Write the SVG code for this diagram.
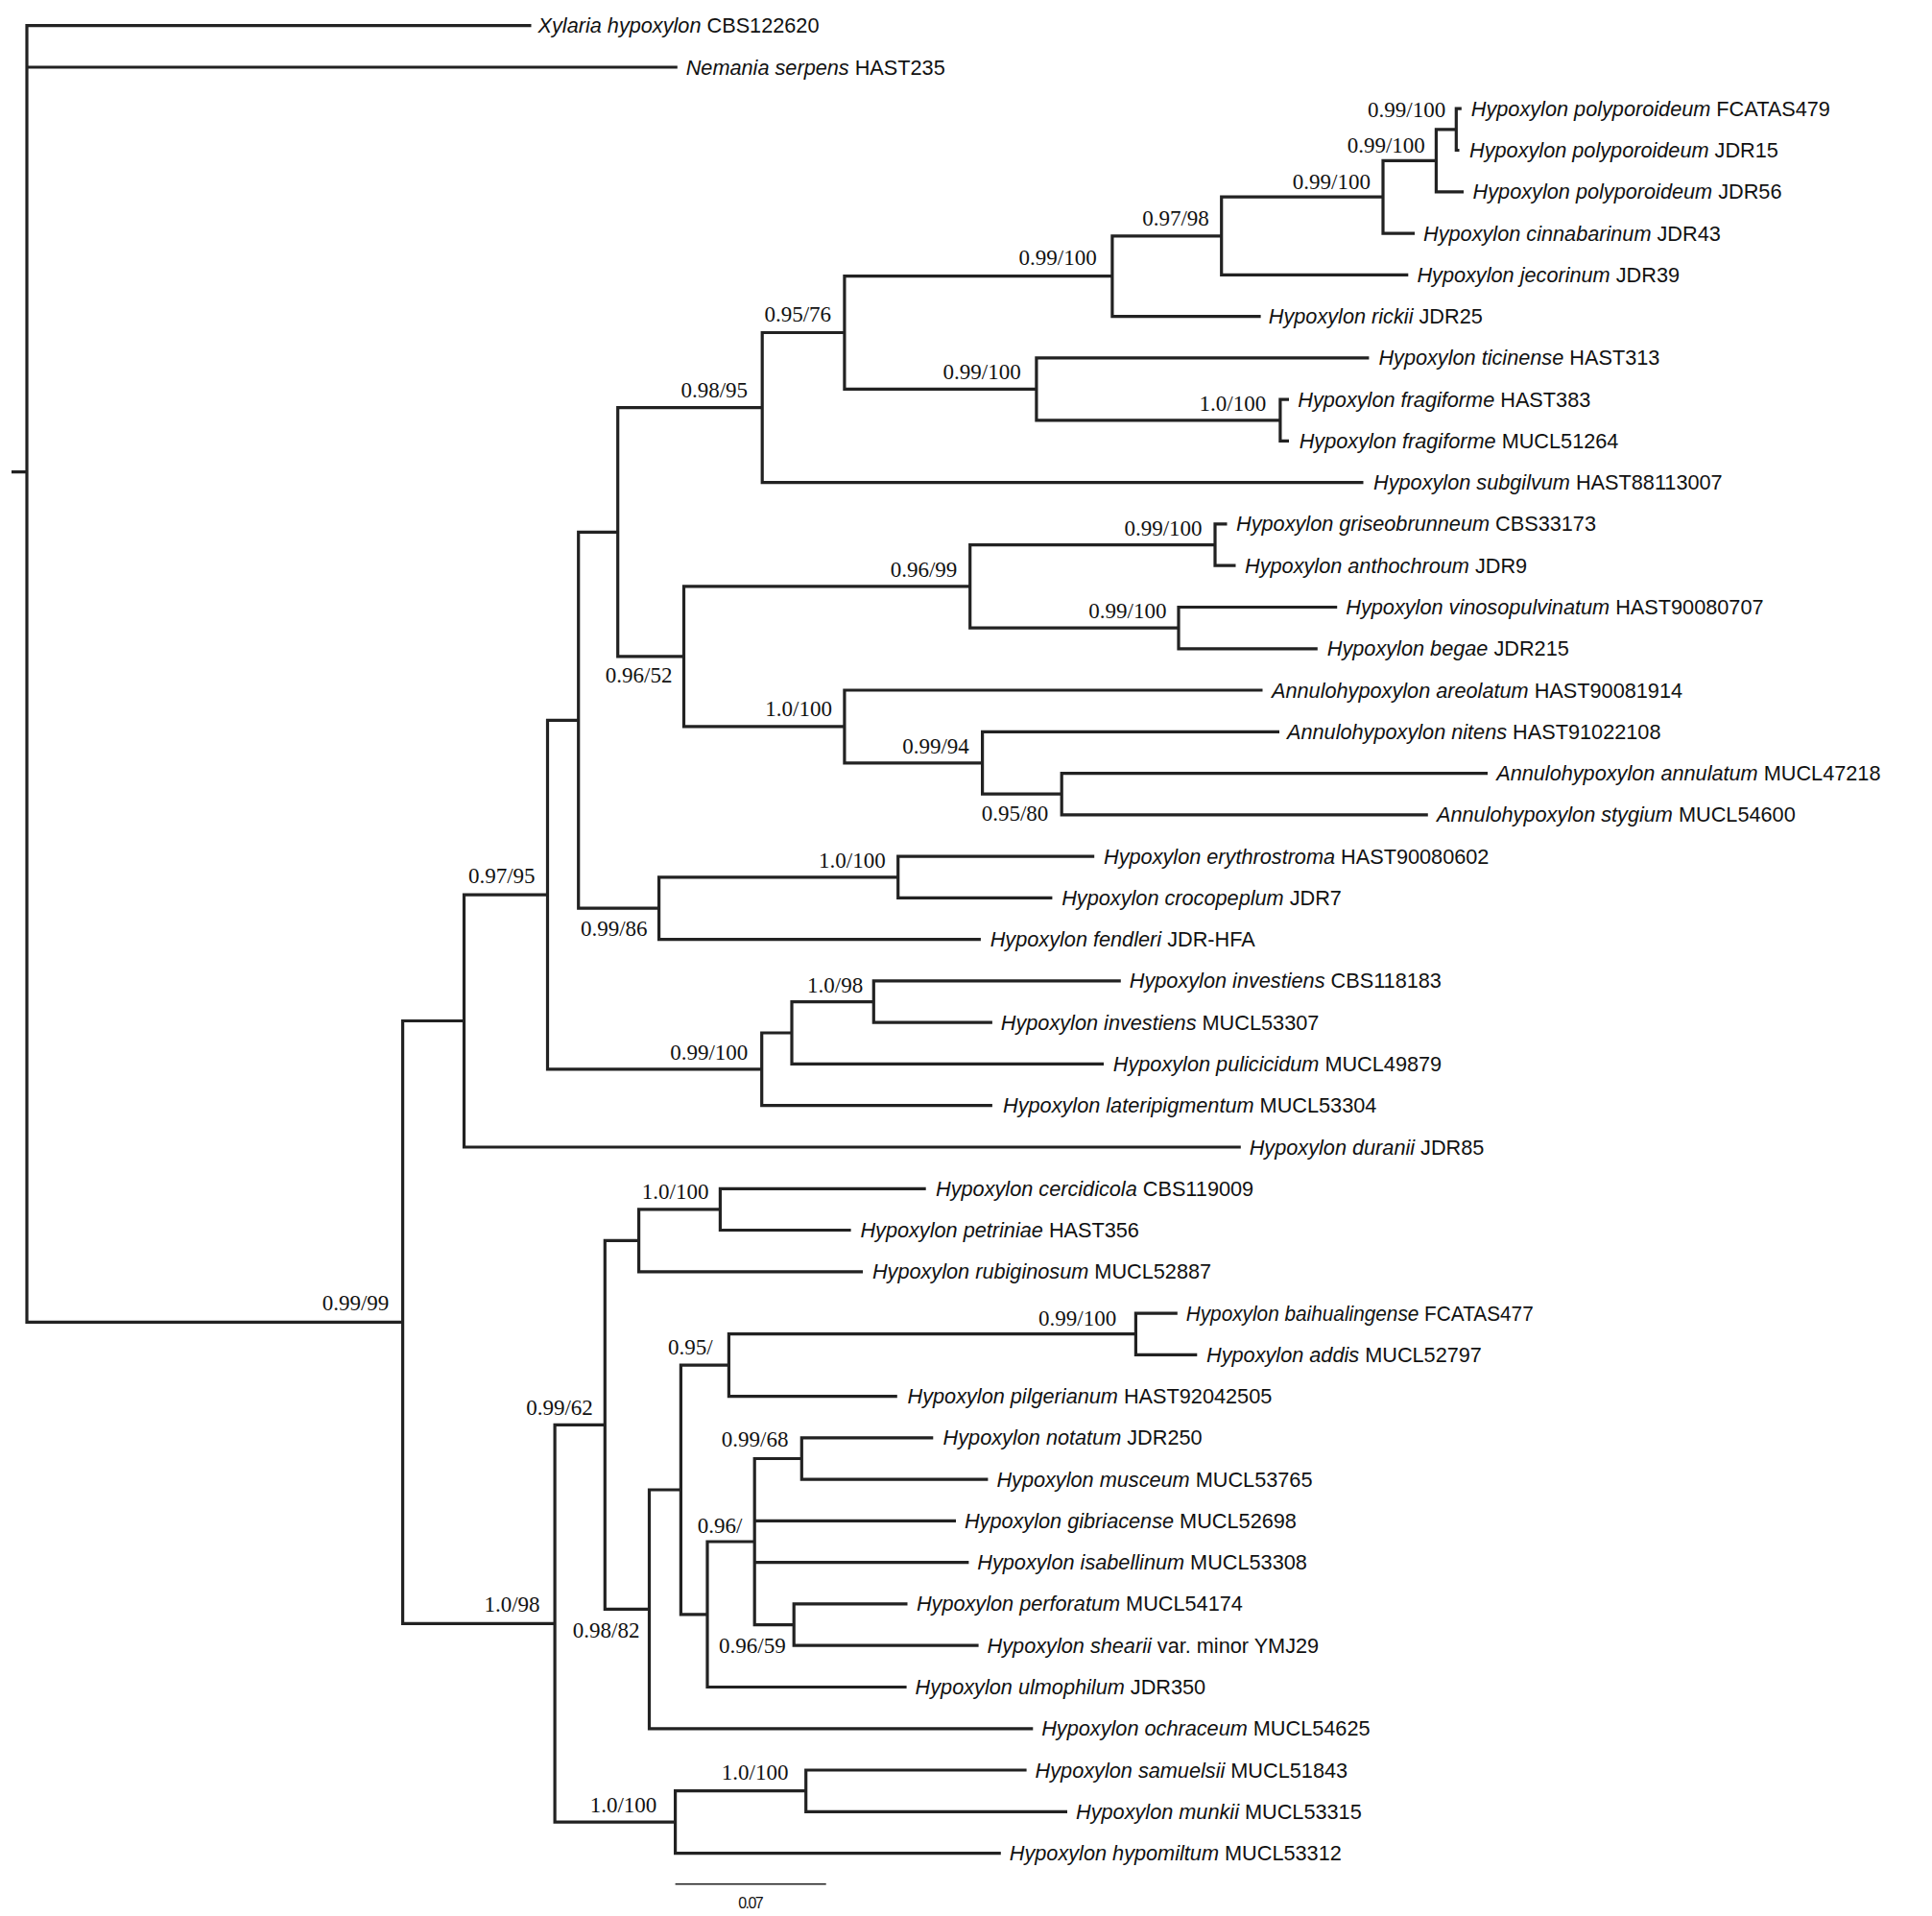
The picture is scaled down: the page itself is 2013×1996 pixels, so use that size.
<svg xmlns="http://www.w3.org/2000/svg" width="2013" height="1996" viewBox="0 0 2013 1996">
<style>
.br{fill:none;stroke:#222;stroke-width:3.2;stroke-linejoin:miter}
.tx{font-family:"Liberation Sans",Arial,sans-serif;font-size:21.7px;fill:#111}
.i{font-style:italic}
.sp{font-family:"Liberation Serif","Times New Roman",serif;font-size:23px;fill:#111}
.sb{fill:none;stroke:#222;stroke-width:1.6}
.sl{font-family:"Liberation Sans",Arial,sans-serif;font-size:16px;fill:#111;letter-spacing:-1.5px}
</style>
<rect width="2013" height="1996" fill="#fff"/>
<g id="connectors">
<path class="br" d="M553.5 26.7H28V1377.4H419.6M28 70H705.8M12 491.7H28"/>
<path class="br" d="M1522.8 113.2H1517.3V156.5H1520.5"/>
<path class="br" d="M1517.3 134.85H1496.4V199.8H1525"/>
<path class="br" d="M1496.4 167.3H1441V243.1H1474"/>
<path class="br" d="M1441 205.2H1272.7V286.3H1467.3"/>
<path class="br" d="M1272.7 245.8H1158.9V329.6H1313.6"/>
<path class="br" d="M1343 416.1H1333.9V459.4H1343"/>
<path class="br" d="M1426.4 372.9H1079.9V437.8H1333.9"/>
<path class="br" d="M1158.9 287.7H879.9V405.3H1079.9"/>
<path class="br" d="M879.9 346.5H794.2V502.7H1420.5"/>
<path class="br" d="M1278.5 545.9H1266V589.2H1287.5"/>
<path class="br" d="M1393.2 632.5H1228V675.8H1372.8"/>
<path class="br" d="M1266 567.6H1010.7V654.1H1228"/>
<path class="br" d="M1550 805.6H1106.2V848.8H1487.8"/>
<path class="br" d="M1333 762.3H1023.6V827.2H1106.2"/>
<path class="br" d="M1315.5 719H879.9V794.8H1023.6"/>
<path class="br" d="M1010.7 610.9H712.5V756.9H879.9"/>
<path class="br" d="M794.2 424.6H643.7V683.9H712.5"/>
<path class="br" d="M1140.2 892.1H935.7V935.4H1096.4"/>
<path class="br" d="M935.7 913.8H686.6V978.6H1021.9"/>
<path class="br" d="M643.7 554.3H602.7V946.2H686.6"/>
<path class="br" d="M1167.8 1021.9H910.3V1065.2H1033.9"/>
<path class="br" d="M910.3 1043.6H825V1108.4H1150"/>
<path class="br" d="M825 1076H793.7V1151.7H1033.9"/>
<path class="br" d="M602.7 750.3H570.5V1113.9H793.7"/>
<path class="br" d="M570.5 932.1H483.5V1195H1292.8"/>
<path class="br" d="M964.7 1238.3H750.4V1281.5H886.6"/>
<path class="br" d="M750.4 1259.9H665.6V1324.8H899"/>
<path class="br" d="M1226.8 1368.1H1183.4V1411.3H1247.3"/>
<path class="br" d="M1183.4 1389.7H759.4V1454.6H934.8"/>
<path class="br" d="M972.3 1497.9H835.3V1541.1H1029.4"/>
<path class="br" d="M945.5 1670.9H827.2V1714.2H1019.6"/>
<path class="br" d="M835.3 1519.5H786.2V1692.6H827.2M786.2 1584.4H996M786.2 1627.7H1009.4"/>
<path class="br" d="M786.2 1606H737V1757.5H944.6"/>
<path class="br" d="M759.4 1422.2H709.4V1681.8H737"/>
<path class="br" d="M709.4 1552H676.5V1800.8H1076.3"/>
<path class="br" d="M665.6 1292.4H630.3V1676.4H676.5"/>
<path class="br" d="M1069.6 1844H839.7V1887.3H1112"/>
<path class="br" d="M839.7 1865.7H703.6V1930.6H1042.8"/>
<path class="br" d="M630.3 1484.4H578.1V1898.1H703.6"/>
<path class="br" d="M483.5 1063.5H419.6V1691.3H578.1"/>
</g>
<g id="leaves">
<g id="t0"><text class="tx" x="560.5" y="34.2"><tspan class="i">Xylaria hypoxylon</tspan> CBS122620</text></g>
<g id="t1"><text class="tx" x="714.7" y="77.5"><tspan class="i">Nemania serpens</tspan> HAST235</text></g>
<g id="t2"><text class="tx" x="1532.8" y="120.7"><tspan class="i">Hypoxylon polyporoideum</tspan> FCATAS479</text></g>
<g id="t3"><text class="tx" x="1531" y="164"><tspan class="i">Hypoxylon polyporoideum</tspan> JDR15</text></g>
<g id="t4"><text class="tx" x="1534.6" y="207.3"><tspan class="i">Hypoxylon polyporoideum</tspan> JDR56</text></g>
<g id="t5"><text class="tx" x="1483" y="250.6"><tspan class="i">Hypoxylon cinnabarinum</tspan> JDR43</text></g>
<g id="t6"><text class="tx" x="1476.4" y="293.8"><tspan class="i">Hypoxylon jecorinum</tspan> JDR39</text></g>
<g id="t7"><text class="tx" x="1321.8" y="337.1"><tspan class="i">Hypoxylon rickii</tspan> JDR25</text></g>
<g id="t8"><text class="tx" x="1436.4" y="380.4"><tspan class="i">Hypoxylon ticinense</tspan> HAST313</text></g>
<g id="t9"><text class="tx" x="1352.3" y="423.6"><tspan class="i">Hypoxylon fragiforme</tspan> HAST383</text></g>
<g id="t10"><text class="tx" x="1353.7" y="466.9"><tspan class="i">Hypoxylon fragiforme</tspan> MUCL51264</text></g>
<g id="t11"><text class="tx" x="1431" y="510.2"><tspan class="i">Hypoxylon subgilvum</tspan> HAST88113007</text></g>
<g id="t12"><text class="tx" x="1288" y="553.4"><tspan class="i">Hypoxylon griseobrunneum</tspan> CBS33173</text></g>
<g id="t13"><text class="tx" x="1297" y="596.7"><tspan class="i">Hypoxylon anthochroum</tspan> JDR9</text></g>
<g id="t14"><text class="tx" x="1402.3" y="640"><tspan class="i">Hypoxylon vinosopulvinatum</tspan> HAST90080707</text></g>
<g id="t15"><text class="tx" x="1382.8" y="683.3"><tspan class="i">Hypoxylon begae</tspan> JDR215</text></g>
<g id="t16"><text class="tx" x="1325" y="726.5"><tspan class="i">Annulohypoxylon areolatum</tspan> HAST90081914</text></g>
<g id="t17"><text class="tx" x="1341" y="769.8"><tspan class="i">Annulohypoxylon nitens</tspan> HAST91022108</text></g>
<g id="t18"><text class="tx" x="1559.2" y="813.1"><tspan class="i">Annulohypoxylon annulatum</tspan> MUCL47218</text></g>
<g id="t19"><text class="tx" x="1497" y="856.3"><tspan class="i">Annulohypoxylon stygium</tspan> MUCL54600</text></g>
<g id="t20"><text class="tx" x="1150" y="899.6"><tspan class="i">Hypoxylon erythrostroma</tspan> HAST90080602</text></g>
<g id="t21"><text class="tx" x="1106.2" y="942.9"><tspan class="i">Hypoxylon crocopeplum</tspan> JDR7</text></g>
<g id="t22"><text class="tx" x="1031.7" y="986.1"><tspan class="i">Hypoxylon fendleri</tspan> JDR-HFA</text></g>
<g id="t23"><text class="tx" x="1176.8" y="1029.4"><tspan class="i">Hypoxylon investiens</tspan> CBS118183</text></g>
<g id="t24"><text class="tx" x="1042.8" y="1072.7"><tspan class="i">Hypoxylon investiens</tspan> MUCL53307</text></g>
<g id="t25"><text class="tx" x="1159.8" y="1115.9"><tspan class="i">Hypoxylon pulicicidum</tspan> MUCL49879</text></g>
<g id="t26"><text class="tx" x="1045" y="1159.2"><tspan class="i">Hypoxylon lateripigmentum</tspan> MUCL53304</text></g>
<g id="t27"><text class="tx" x="1301.7" y="1202.5"><tspan class="i">Hypoxylon duranii</tspan> JDR85</text></g>
<g id="t28"><text class="tx" x="975" y="1245.8"><tspan class="i">Hypoxylon cercidicola</tspan> CBS119009</text></g>
<g id="t29"><text class="tx" x="896.4" y="1289"><tspan class="i">Hypoxylon petriniae</tspan> HAST356</text></g>
<g id="t30"><text class="tx" x="908.9" y="1332.3"><tspan class="i">Hypoxylon rubiginosum</tspan> MUCL52887</text></g>
<g id="t31"><text class="tx" x="1235.7" y="1375.6" textLength="362" lengthAdjust="spacingAndGlyphs"><tspan class="i">Hypoxylon baihualingense</tspan> FCATAS477</text></g>
<g id="t32"><text class="tx" x="1257" y="1418.8"><tspan class="i">Hypoxylon addis</tspan> MUCL52797</text></g>
<g id="t33"><text class="tx" x="945.5" y="1462.1"><tspan class="i">Hypoxylon pilgerianum</tspan> HAST92042505</text></g>
<g id="t34"><text class="tx" x="982.6" y="1505.4"><tspan class="i">Hypoxylon notatum</tspan> JDR250</text></g>
<g id="t35"><text class="tx" x="1038.4" y="1548.6"><tspan class="i">Hypoxylon musceum</tspan> MUCL53765</text></g>
<g id="t36"><text class="tx" x="1004.9" y="1591.9"><tspan class="i">Hypoxylon gibriacense</tspan> MUCL52698</text></g>
<g id="t37"><text class="tx" x="1018.3" y="1635.2"><tspan class="i">Hypoxylon isabellinum</tspan> MUCL53308</text></g>
<g id="t38"><text class="tx" x="954.9" y="1678.4"><tspan class="i">Hypoxylon perforatum</tspan> MUCL54174</text></g>
<g id="t39"><text class="tx" x="1028.6" y="1721.7"><tspan class="i">Hypoxylon shearii</tspan> var. minor YMJ29</text></g>
<g id="t40"><text class="tx" x="953.6" y="1765"><tspan class="i">Hypoxylon ulmophilum</tspan> JDR350</text></g>
<g id="t41"><text class="tx" x="1085.2" y="1808.3"><tspan class="i">Hypoxylon ochraceum</tspan> MUCL54625</text></g>
<g id="t42"><text class="tx" x="1078.6" y="1851.5"><tspan class="i">Hypoxylon samuelsii</tspan> MUCL51843</text></g>
<g id="t43"><text class="tx" x="1121" y="1894.8"><tspan class="i">Hypoxylon munkii</tspan> MUCL53315</text></g>
<g id="t44"><text class="tx" x="1051.8" y="1938.1"><tspan class="i">Hypoxylon hypomiltum</tspan> MUCL53312</text></g>
</g>
<g id="supports">
<g id="s-poly12"><text class="sp" x="1425" y="121.7">0.99/100</text></g>
<g id="s-poly"><text class="sp" x="1403.7" y="159.3">0.99/100</text></g>
<g id="s-cinn"><text class="sp" x="1346.8" y="196.7">0.99/100</text></g>
<g id="s-jec"><text class="sp" x="1190.2" y="235">0.97/98</text></g>
<g id="s-rick"><text class="sp" x="1061.6" y="276">0.99/100</text></g>
<g id="s-076"><text class="sp" x="796.4" y="335">0.95/76</text></g>
<g id="s-tic"><text class="sp" x="982.6" y="395">0.99/100</text></g>
<g id="s-frag"><text class="sp" x="1249.5" y="427.7">1.0/100</text></g>
<g id="s-095"><text class="sp" x="709.4" y="414.3">0.98/95</text></g>
<g id="s-gris"><text class="sp" x="1171.4" y="557.5">0.99/100</text></g>
<g id="s-099gv"><text class="sp" x="927.7" y="600.5">0.96/99</text></g>
<g id="s-vino"><text class="sp" x="1134.3" y="644.3">0.99/100</text></g>
<g id="s-052"><text class="sp" x="630.8" y="711.4">0.96/52</text></g>
<g id="s-are"><text class="sp" x="797.3" y="745.8">1.0/100</text></g>
<g id="s-nit"><text class="sp" x="940.2" y="784.8">0.99/94</text></g>
<g id="s-ann"><text class="sp" x="1022.7" y="855.3">0.95/80</text></g>
<g id="s-ery"><text class="sp" x="853.1" y="903.6">1.0/100</text></g>
<g id="s-086"><text class="sp" x="604.9" y="974.8">0.99/86</text></g>
<g id="s-A0"><text class="sp" x="487.9" y="920">0.97/95</text></g>
<g id="s-inv"><text class="sp" x="841.1" y="1034.4">1.0/98</text></g>
<g id="s-lat"><text class="sp" x="698.2" y="1104">0.99/100</text></g>
<g id="s-in"><text class="sp" x="335.7" y="1365">0.99/99</text></g>
<g id="s-cerc"><text class="sp" x="668.8" y="1249.3">1.0/100</text></g>
<g id="s-bai"><text class="sp" x="1082.1" y="1381.2">0.99/100</text></g>
<g id="s-pil"><text class="sp" x="696" y="1411.1">0.95/</text></g>
<g id="s-062"><text class="sp" x="548.2" y="1473.5">0.99/62</text></g>
<g id="s-not"><text class="sp" x="751.8" y="1507.3">0.99/68</text></g>
<g id="s-096"><text class="sp" x="726.8" y="1596.7">0.96/</text></g>
<g id="s-098"><text class="sp" x="504.4" y="1679">1.0/98</text></g>
<g id="s-och"><text class="sp" x="596.8" y="1705.7">0.98/82</text></g>
<g id="s-per"><text class="sp" x="749.1" y="1721.7">0.96/59</text></g>
<g id="s-sam"><text class="sp" x="751.8" y="1854">1.0/100</text></g>
<g id="s-100"><text class="sp" x="614.7" y="1888.3">1.0/100</text></g>
</g>
<g id="scalebar">
<path class="sb" d="M703.6 1962.7H860.7"/>
<text class="sl" x="781.7" y="1988.3" text-anchor="middle">0.07</text>
</g>
</svg>
